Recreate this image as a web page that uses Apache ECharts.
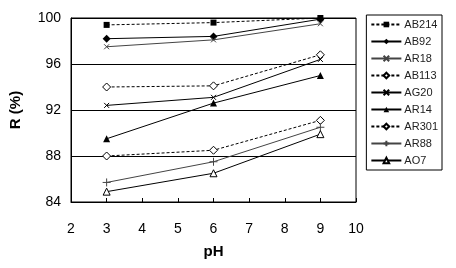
<!DOCTYPE html>
<html>
<head>
<meta charset="utf-8">
<script src="https://cdn.jsdelivr.net/npm/echarts@6/dist/echarts.min.js"></script>
<style>
  html, body { margin: 0; padding: 0; background: #fff; }
  #chart { width: 456px; height: 268px; }
</style>
</head>
<body>
<div id="chart"></div>
<script>
// pH values on x axis
const phValues = [3, 6, 9];
const seriesNames = ["AB214", "AB92", "AR18", "AB113", "AG20", "AR14", "AR301", "AR88", "AO7"];

const AB214 = [99.4, 99.6, 100];
const AB92 = [98.2, 98.4, 99.9];
const AR18 = [97.5, 98.1, 99.5];
const AB113 = [94.0, 94.1, 96.8];
const AG20 = [92.4, 93.1, 96.4];
const AR14 = [89.5, 92.6, 95.0];
const AR301 = [88.0, 88.5, 91.1];
const AR88 = [85.7, 87.5, 90.5];
const AO7 = [84.9, 86.5, 89.9];

const cross = "path://M0,0L10,10M10,0L0,10";
const plus = "path://M5,0L5,10M0,5L10,5";

const chart = echarts.init(document.getElementById("chart"));

function mk(name, data, opt) {
  return {
    name: name,
    type: "line",
    data: phValues.map((x, i) => [x, data[i]]),
    symbol: opt.symbol,
    symbolSize: opt.size || 6,
    showSymbol: true,
    lineStyle: { color: opt.color || "#000", width: 1, type: opt.dashed ? [3, 2] : "solid" },
    itemStyle: opt.hollow
      ? { color: "#fff", borderColor: opt.color || "#000", borderWidth: 1 }
      : opt.stroke
      ? { color: "none", borderColor: opt.color || "#000", borderWidth: 1 }
      : { color: opt.color || "#000", borderWidth: 0 },
    animation: false,
  };
}

chart.setOption({
  backgroundColor: "#fff",
  grid: {
    left: 70,
    right: 100,
    top: 18,
    bottom: 66,
    show: true,
    borderColor: "#000",
    borderWidth: 1,
  },
  legend: {
    orient: "vertical",
    right: 14,
    top: 15,
    itemWidth: 30,
    itemHeight: 7,
    itemGap: 6,
    padding: [4, 4, 4, 4],
    borderColor: "#000",
    borderWidth: 1,
    textStyle: { fontFamily: "Liberation Sans", fontSize: 11, color: "#222", padding: [0, 0, 0, -2] },
    data: seriesNames,
  },
  xAxis: {
    type: "value",
    min: 2,
    max: 10,
    interval: 1,
    name: "pH",
    nameLocation: "middle",
    nameGap: 42,
    nameTextStyle: { fontFamily: "Liberation Sans", fontSize: 15, fontWeight: "bold", color: "#000" },
    axisLine: { lineStyle: { color: "#000" } },
    axisTick: { inside: true, length: 4, lineStyle: { color: "#000" } },
    axisLabel: { fontFamily: "Liberation Sans", fontSize: 14, color: "#000", margin: 20 },
    splitLine: { show: false },
  },
  yAxis: {
    type: "value",
    min: 84,
    max: 100,
    interval: 4,
    name: "R (%)",
    nameLocation: "middle",
    nameGap: 48,
    nameTextStyle: { fontFamily: "Liberation Sans", fontSize: 15, fontWeight: "bold", color: "#000" },
    axisLine: { show: true, lineStyle: { color: "#000" } },
    axisTick: { show: false },
    axisLabel: { fontFamily: "Liberation Sans", fontSize: 14, color: "#000", margin: 10 },
    splitLine: { lineStyle: { color: "#000", width: 1 } },
  },
  series: [
    mk("AB214", AB214, { symbol: "rect", size: 6, dashed: true }),
    mk("AB92", AB92, { symbol: "diamond", size: 8 }),
    mk("AR18", AR18, { symbol: cross, size: 5, stroke: true, color: "#444" }),
    mk("AB113", AB113, { symbol: "diamond", size: 8, hollow: true, dashed: true }),
    mk("AG20", AG20, { symbol: cross, size: 5, stroke: true }),
    mk("AR14", AR14, { symbol: "triangle", size: 7 }),
    mk("AR301", AR301, { symbol: "diamond", size: 8, hollow: true, dashed: true }),
    mk("AR88", AR88, { symbol: plus, size: 8, stroke: true, color: "#444" }),
    mk("AO7", AO7, { symbol: "triangle", size: 7, hollow: true }),
  ],
});
</script>
</body>
</html>
